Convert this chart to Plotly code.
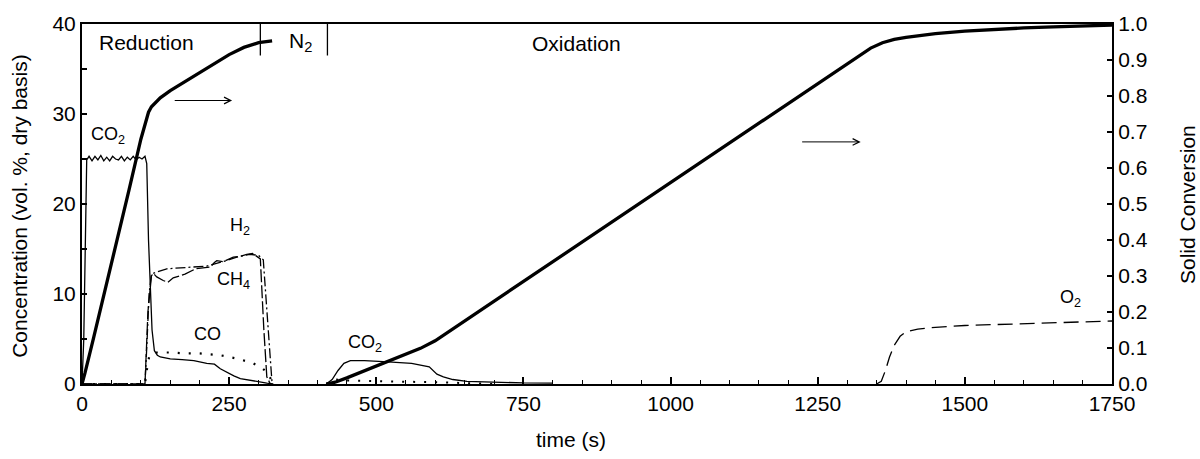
import plotly.graph_objects as go

# ---------------- data ----------------
# Solid conversion (right axis)
conv_red_t = [0, 5, 20, 40, 60, 80, 100, 108, 113, 118, 125, 133, 150, 175, 200, 225, 250, 275, 300, 323]
conv_red_v = [0, 0.03, 0.13, 0.265, 0.40, 0.54, 0.68, 0.73, 0.755, 0.77, 0.783, 0.795, 0.815, 0.84, 0.865, 0.89, 0.915, 0.935, 0.948, 0.953]
conv_ox_t = [415, 430, 450, 475, 500, 525, 550, 575, 600, 700, 800, 900, 1000, 1100, 1200, 1300, 1340,
             1360, 1380, 1400, 1450, 1500, 1550, 1600, 1650, 1700, 1750]
conv_ox_v = [0, 0.005, 0.017, 0.033, 0.05, 0.066, 0.082, 0.099, 0.12, 0.23, 0.34, 0.45, 0.56, 0.67, 0.78, 0.89, 0.933,
             0.948, 0.957, 0.963, 0.973, 0.98, 0.985, 0.989, 0.992, 0.995, 0.997]

# Reduction gases (left axis)
co2_red_t = [0, 3, 8, 12, 17, 22, 27, 32, 37, 42, 47, 52, 57, 62, 67, 72, 77, 82, 87, 92, 97, 102, 107, 110,
             113, 116, 119, 123, 128, 133, 150, 170, 190, 212, 225, 235, 246, 258, 269, 285, 300, 314, 325]
co2_red_v = [0, 5, 24.9, 25.3, 24.8, 25.3, 24.9, 25.4, 24.8, 25.2, 24.8, 25.3, 25.0, 24.9, 25.3, 24.8, 25.2, 24.9, 25.3,
             24.9, 25.2, 25.0, 25.3, 24.5, 16, 11.5, 6, 3.7, 3.2, 3.0, 2.8, 2.7, 2.6, 2.3, 2.2, 1.7, 1.3, 0.9, 0.6,
             0.4, 0.2, 0.1, 0.0]
h2_t = [0, 107, 110, 114, 118, 125, 144, 170, 212, 240, 263, 285, 300, 308, 313, 318, 323]
h2_v = [0, 0, 4, 10, 12.2, 12.4, 12.8, 12.9, 13.1, 13.6, 14.1, 14.4, 14.3, 13.8, 9, 4, 0]
ch4_t = [0, 107, 112, 118, 121, 127, 138, 146, 155, 175, 193, 218, 225, 229, 240, 257, 270, 280, 290, 297, 303, 309, 314, 320]
ch4_v = [0, 0, 8, 12.0, 12.3, 11.9, 11.5, 11.3, 11.8, 12.2, 12.8, 13.0, 13.5, 13.7, 13.6, 14.1, 14.2, 14.4, 14.5, 14.2, 13.9, 6, 0.8, 0]
co_red_t = [0, 107, 110, 114, 118, 125, 150, 175, 200, 235, 265, 291, 305, 315, 325]
co_red_v = [0, 0, 1.5, 3.0, 3.4, 3.5, 3.5, 3.4, 3.4, 3.2, 2.8, 2.3, 1.8, 1.3, 0]

# Oxidation gases (left axis)
co2_ox_t = [415, 425, 435, 445, 456, 480, 520, 560, 590, 603, 614, 630, 654, 700, 750, 800]
co2_ox_v = [0, 0.5, 1.5, 2.3, 2.6, 2.6, 2.45, 2.3, 1.9, 1.1, 0.8, 0.5, 0.3, 0.2, 0.12, 0.1]
co_ox_t = [415, 430, 450, 500, 550, 600, 650, 700]
co_ox_v = [0, 0.5, 0.4, 0.3, 0.25, 0.2, 0.1, 0]
o2_t = [1350, 1358, 1365, 1372, 1380, 1390, 1400, 1420, 1450, 1500, 1550, 1600, 1650, 1700, 1750]
o2_v = [0, 0.3, 1.5, 3.0, 4.3, 5.3, 5.8, 6.1, 6.3, 6.5, 6.6, 6.7, 6.8, 6.9, 7.0]

# phase boundaries (s) and their marker span at the top (vol. %)
phase_bounds = [303, 417]
bound_span = [36.5, 40]

# labels
phase_labels = ["Reduction", "N<sub>2</sub>", "Oxidation"]
phase_label_t = [109, 371, 840]
phase_label_y = [38.0, 38.0, 37.8]
gas_labels = ["CO<sub>2</sub>", "H<sub>2</sub>", "CH<sub>4</sub>", "CO", "CO<sub>2</sub>", "O<sub>2</sub>"]
gas_label_t = [44, 269, 257, 214, 481, 1680]
gas_label_y = [27.6, 17.5, 11.5, 5.6, 4.5, 9.5]

x_ticks = [0, 250, 500, 750, 1000, 1250, 1500, 1750]

FONT = "Liberation Sans, Arial, sans-serif"
FS_TICK = 21
FS_TITLE = 21
FS_PHASE = 21
FS_GAS = 18
BLACK = "#000000"

fig = go.Figure()

def line(x, y, width=1.3, dash="solid", yaxis="y"):
    fig.add_trace(go.Scatter(x=x, y=y, mode="lines", yaxis=yaxis, showlegend=False,
                             line=dict(color=BLACK, width=width, dash=dash), hoverinfo="skip"))

line(co2_red_t, co2_red_v)
line(h2_t, h2_v, dash="10px,3px,2px,3px")
line(ch4_t, ch4_v, dash="13px,3px")
line(co_red_t, co_red_v, width=2.2, dash="2px,9px")
line(co2_ox_t, co2_ox_v)
line(co_ox_t, co_ox_v, width=2.0, dash="2px,9px")
line(o2_t, o2_v, dash="15px,7px")
line(conv_red_t, conv_red_v, width=3.3, yaxis="y2")
line(conv_ox_t, conv_ox_v, width=3.3, yaxis="y2")
for b in phase_bounds:
    line([b, b], bound_span, width=1.3)

for txt, tx, ty in zip(phase_labels, phase_label_t, phase_label_y):
    fig.add_annotation(x=tx, y=ty, xref="x", yref="y", text=txt, showarrow=False,
                       xanchor="center", yanchor="middle",
                       font=dict(family=FONT, size=FS_PHASE, color=BLACK))
for txt, tx, ty in zip(gas_labels, gas_label_t, gas_label_y):
    fig.add_annotation(x=tx, y=ty, xref="x", yref="y", text=txt, showarrow=False,
                       xanchor="center", yanchor="middle",
                       font=dict(family=FONT, size=FS_GAS, color=BLACK))

# arrows pointing to the right (conversion axis)
arrow_start_t = [155, 1221]
arrow_end_t = [255, 1323]
arrow_y = [31.5, 26.9]
for s, e, yv in zip(arrow_start_t, arrow_end_t, arrow_y):
    fig.add_annotation(x=e, y=yv, ax=s, ay=yv, xref="x", yref="y", axref="x", ayref="y",
                       text="", showarrow=True, arrowhead=5, arrowsize=1.3, arrowwidth=1, arrowcolor=BLACK)

# axis titles
fig.add_annotation(x=-0.0602, y=0.495, xref="paper", yref="paper", text="Concentration (vol. %, dry basis)",
                   textangle=-90, showarrow=False, xanchor="center", yanchor="middle",
                   font=dict(family=FONT, size=FS_TITLE, color=BLACK))
fig.add_annotation(x=1.0728, y=0.50, xref="paper", yref="paper", text="Solid Conversion",
                   textangle=-90, showarrow=False, xanchor="center", yanchor="middle",
                   font=dict(family=FONT, size=FS_TITLE, color=BLACK))
fig.add_annotation(x=0.4748, y=-0.154, xref="paper", yref="paper", text="time (s)",
                   showarrow=False, xanchor="center", yanchor="middle",
                   font=dict(family=FONT, size=FS_TITLE, color=BLACK))

fig.update_layout(
    width=1200, height=459,
    margin=dict(l=82, r=88, t=21, b=75),
    paper_bgcolor="white", plot_bgcolor="white",
    font=dict(family=FONT, size=FS_TICK, color=BLACK),
    xaxis=dict(range=[0, 1750], tickvals=x_ticks, ticks="inside", ticklen=7, tickwidth=1.5,
               tickcolor=BLACK, showline=True, linecolor=BLACK, linewidth=2, mirror=True,
               showgrid=False, zeroline=False, tickfont=dict(size=FS_TICK),
               minor=dict(dtick=50, ticks="inside", ticklen=4, tickwidth=1, tickcolor=BLACK, showgrid=False)),
    yaxis=dict(range=[0, 40], dtick=10, ticks="inside", ticklen=5, tickwidth=1.5, tickcolor=BLACK,
               showline=True, linecolor=BLACK, linewidth=2, showgrid=False, zeroline=False,
               tickfont=dict(size=FS_TICK),
               minor=dict(dtick=5, ticks="inside", ticklen=5, tickwidth=1.5, tickcolor=BLACK, showgrid=False)),
    yaxis2=dict(range=[0, 1], dtick=0.1, tickformat=".1f", overlaying="y", side="right",
                ticks="inside", ticklen=5, tickwidth=1.5, tickcolor=BLACK, tickfont=dict(size=FS_TICK),
                showline=True, linecolor=BLACK, linewidth=2, showgrid=False, zeroline=False),
)

fig.write_html("out.html")
